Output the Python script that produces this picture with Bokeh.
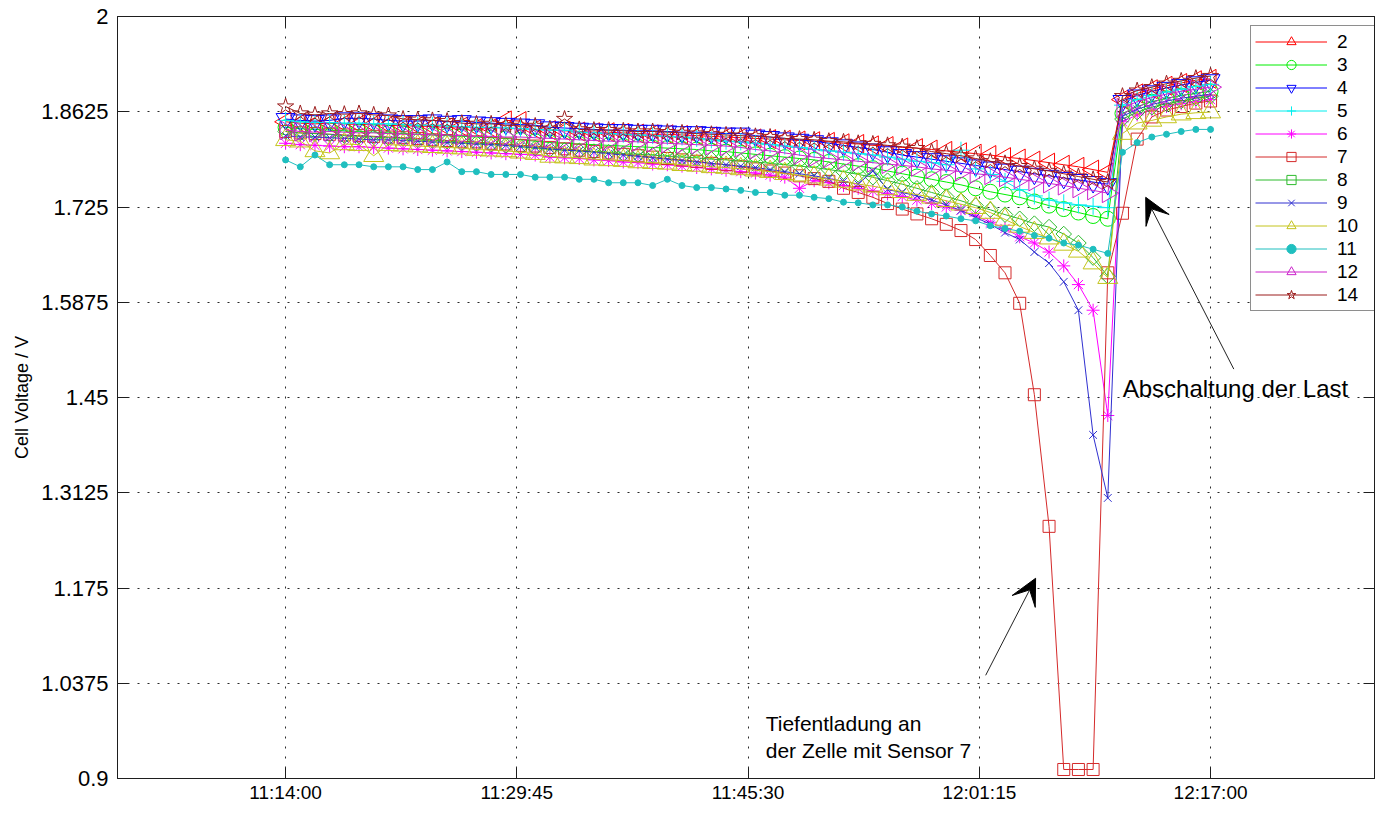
import math
from datetime import datetime, timedelta
from bokeh.plotting import figure
from bokeh.models import (Range1d, FixedTicker, DatetimeTickFormatter, LinearAxis, DatetimeAxis,
                          Legend, LegendItem, Arrow, VeeHead, Label, ColumnDataSource)
from bokeh.embed import file_html
from bokeh.resources import INLINE

DAY = datetime(2011, 3, 15)
EPOCH = datetime(1970, 1, 1)


def hms(s):
    h, m, sec = map(int, s.split(":"))
    return DAY + timedelta(hours=h, minutes=m, seconds=sec)


def ms(s):
    return (hms(s) - EPOCH).total_seconds() * 1000.0


# ---------------- data ----------------
first_sample = "11:14:00"
n_samples = 64          # one reading per minute, 11:14 ... 12:17
times = [hms(first_sample) + timedelta(minutes=i) for i in range(n_samples)]

x_tick_labels = ["11:14:00", "11:29:45", "11:45:30", "12:01:15", "12:17:00"]
y_ticks = [0.9, 1.0375, 1.175, 1.3125, 1.45, 1.5875, 1.725, 1.8625, 2.0]
y_tick_labels = ["0.9", "1.0375", "1.175", "1.3125", "1.45", "1.5875", "1.725", "1.8625", "2"]

sensor_names = ["2", "3", "4", "5", "6", "7", "8", "9", "10", "11", "12", "14"]

s2 = [1.848, 1.846, 1.845, 1.846, 1.845, 1.844, 1.844, 1.843, 1.842, 1.842,
      1.841, 1.840, 1.841, 1.839, 1.839, 1.850, 1.849, 1.837, 1.836, 1.835,
      1.834, 1.833, 1.833, 1.832, 1.831, 1.830, 1.830, 1.829, 1.828, 1.827,
      1.826, 1.825, 1.824, 1.823, 1.822, 1.821, 1.820, 1.819, 1.817, 1.816,
      1.814, 1.813, 1.811, 1.810, 1.808, 1.806, 1.804, 1.802, 1.800, 1.797,
      1.795, 1.792, 1.789, 1.786, 1.783, 1.779, 1.775, 1.880, 1.889, 1.895,
      1.900, 1.904, 1.908, 1.910]
s3 = [1.840, 1.838, 1.837, 1.836, 1.835, 1.834, 1.833, 1.832, 1.831, 1.830,
      1.829, 1.828, 1.827, 1.826, 1.825, 1.824, 1.822, 1.820, 1.818, 1.817,
      1.816, 1.815, 1.814, 1.813, 1.812, 1.811, 1.810, 1.809, 1.808, 1.806,
      1.805, 1.803, 1.801, 1.799, 1.797, 1.795, 1.793, 1.790, 1.787, 1.784,
      1.781, 1.777, 1.773, 1.769, 1.765, 1.761, 1.757, 1.752, 1.747, 1.743,
      1.739, 1.733, 1.727, 1.722, 1.717, 1.712, 1.708, 1.860, 1.870, 1.877,
      1.882, 1.886, 1.889, 1.892]
s4 = [1.852, 1.850, 1.849, 1.850, 1.853, 1.853, 1.852, 1.850, 1.849, 1.849,
      1.850, 1.848, 1.849, 1.847, 1.846, 1.845, 1.844, 1.843, 1.840, 1.839,
      1.838, 1.837, 1.836, 1.836, 1.835, 1.835, 1.834, 1.833, 1.833, 1.832,
      1.831, 1.831, 1.828, 1.826, 1.824, 1.822, 1.820, 1.817, 1.814, 1.811,
      1.808, 1.804, 1.800, 1.797, 1.794, 1.791, 1.788, 1.785, 1.782, 1.779,
      1.776, 1.773, 1.770, 1.767, 1.764, 1.761, 1.758, 1.878, 1.886, 1.892,
      1.897, 1.901, 1.905, 1.908]
s5 = [1.850, 1.848, 1.847, 1.847, 1.846, 1.846, 1.845, 1.845, 1.844, 1.843,
      1.843, 1.842, 1.841, 1.840, 1.840, 1.839, 1.838, 1.837, 1.836, 1.836,
      1.833, 1.832, 1.831, 1.830, 1.829, 1.828, 1.827, 1.826, 1.824, 1.822,
      1.820, 1.819, 1.817, 1.815, 1.813, 1.811, 1.808, 1.806, 1.804, 1.802,
      1.800, 1.797, 1.794, 1.791, 1.789, 1.786, 1.807, 1.780, 1.772, 1.762,
      1.750, 1.741, 1.735, 1.731, 1.728, 1.726, 1.724, 1.872, 1.880, 1.886,
      1.891, 1.895, 1.899, 1.902]
s6 = [1.817, 1.815, 1.814, 1.813, 1.812, 1.812, 1.811, 1.810, 1.809, 1.808,
      1.807, 1.806, 1.805, 1.804, 1.803, 1.802, 1.801, 1.800, 1.797, 1.796,
      1.795, 1.793, 1.792, 1.790, 1.789, 1.787, 1.786, 1.784, 1.782, 1.780,
      1.778, 1.776, 1.774, 1.771, 1.768, 1.752, 1.763, 1.760, 1.756, 1.752,
      1.748, 1.744, 1.740, 1.735, 1.730, 1.725, 1.720, 1.712, 1.703, 1.694,
      1.682, 1.673, 1.660, 1.640, 1.613, 1.576, 1.424, 1.848, 1.858, 1.865,
      1.870, 1.874, 1.877, 1.880]
s7 = [1.834, 1.832, 1.831, 1.830, 1.829, 1.828, 1.827, 1.826, 1.825, 1.824,
      1.822, 1.821, 1.820, 1.819, 1.817, 1.816, 1.814, 1.813, 1.811, 1.809,
      1.807, 1.805, 1.803, 1.801, 1.799, 1.797, 1.795, 1.793, 1.791, 1.788,
      1.786, 1.783, 1.780, 1.777, 1.774, 1.770, 1.766, 1.762, 1.752, 1.746,
      1.739, 1.730, 1.722, 1.715, 1.708, 1.700, 1.691, 1.678, 1.655, 1.630,
      1.586, 1.454, 1.264, 0.913, 0.913, 0.913, 1.630, 1.716, 1.823, 1.855,
      1.865, 1.870, 1.875, 1.878]
s8 = [1.834, 1.832, 1.831, 1.830, 1.828, 1.827, 1.826, 1.825, 1.824, 1.822,
      1.821, 1.820, 1.818, 1.817, 1.816, 1.814, 1.812, 1.810, 1.808, 1.807,
      1.806, 1.805, 1.804, 1.802, 1.801, 1.800, 1.798, 1.797, 1.796, 1.794,
      1.793, 1.791, 1.790, 1.788, 1.786, 1.784, 1.782, 1.779, 1.776, 1.772,
      1.768, 1.763, 1.758, 1.752, 1.746, 1.740, 1.734, 1.727, 1.721, 1.714,
      1.708, 1.701, 1.696, 1.686, 1.673, 1.652, 1.625, 1.852, 1.862, 1.869,
      1.874, 1.878, 1.882, 1.885]
s9 = [1.828, 1.826, 1.826, 1.825, 1.824, 1.823, 1.822, 1.822, 1.821, 1.820,
      1.819, 1.818, 1.817, 1.816, 1.815, 1.814, 1.812, 1.811, 1.809, 1.807,
      1.806, 1.804, 1.802, 1.800, 1.798, 1.796, 1.794, 1.792, 1.790, 1.788,
      1.786, 1.784, 1.782, 1.779, 1.776, 1.773, 1.770, 1.766, 1.762, 1.758,
      1.777, 1.750, 1.746, 1.741, 1.735, 1.728, 1.720, 1.710, 1.700, 1.688,
      1.678, 1.660, 1.644, 1.617, 1.576, 1.396, 1.305, 1.856, 1.866, 1.873,
      1.878, 1.882, 1.885, 1.888]
s10 = [1.822, 1.820, 1.806, 1.803, 1.816, 1.815, 1.799, 1.815, 1.814, 1.813,
       1.812, 1.811, 1.810, 1.808, 1.807, 1.806, 1.804, 1.802, 1.798, 1.797,
       1.796, 1.794, 1.793, 1.792, 1.790, 1.789, 1.788, 1.786, 1.785, 1.783,
       1.782, 1.780, 1.778, 1.776, 1.773, 1.771, 1.768, 1.765, 1.762, 1.758,
       1.755, 1.751, 1.747, 1.743, 1.739, 1.734, 1.729, 1.724, 1.717, 1.707,
       1.697, 1.688, 1.680, 1.671, 1.661, 1.644, 1.623, 1.831, 1.846, 1.850,
       1.855, 1.859, 1.861, 1.862]
s11 = [1.793, 1.783, 1.800, 1.786, 1.786, 1.786, 1.783, 1.783, 1.783, 1.779,
       1.779, 1.790, 1.776, 1.776, 1.772, 1.772, 1.772, 1.768, 1.768, 1.768,
       1.765, 1.765, 1.760, 1.760, 1.760, 1.756, 1.765, 1.756, 1.753, 1.753,
       1.751, 1.749, 1.746, 1.746, 1.742, 1.742, 1.739, 1.737, 1.732, 1.731,
       1.728, 1.728, 1.725, 1.719, 1.715, 1.712, 1.708, 1.705, 1.698, 1.694,
       1.690, 1.684, 1.680, 1.673, 1.670, 1.664, 1.658, 1.804, 1.818, 1.826,
       1.830, 1.834, 1.837, 1.837]
s12 = [1.836, 1.834, 1.833, 1.834, 1.833, 1.832, 1.832, 1.831, 1.830, 1.830,
       1.829, 1.829, 1.828, 1.827, 1.827, 1.826, 1.826, 1.825, 1.824, 1.823,
       1.822, 1.821, 1.820, 1.820, 1.819, 1.818, 1.817, 1.816, 1.815, 1.814,
       1.813, 1.811, 1.808, 1.806, 1.803, 1.800, 1.797, 1.795, 1.793, 1.791,
       1.789, 1.787, 1.785, 1.783, 1.780, 1.778, 1.776, 1.773, 1.771, 1.768,
       1.765, 1.762, 1.759, 1.756, 1.752, 1.749, 1.745, 1.868, 1.877, 1.883,
       1.888, 1.892, 1.895, 1.898]
s14 = [1.870, 1.860, 1.858, 1.860, 1.859, 1.860, 1.858, 1.857, 1.852, 1.851,
       1.850, 1.849, 1.846, 1.845, 1.845, 1.843, 1.842, 1.842, 1.838, 1.852,
       1.837, 1.836, 1.836, 1.835, 1.834, 1.834, 1.833, 1.832, 1.831, 1.830,
       1.829, 1.828, 1.827, 1.826, 1.824, 1.823, 1.822, 1.820, 1.819, 1.817,
       1.816, 1.814, 1.812, 1.810, 1.805, 1.802, 1.799, 1.795, 1.791, 1.788,
       1.784, 1.780, 1.777, 1.773, 1.769, 1.765, 1.761, 1.885, 1.893, 1.898,
       1.903, 1.907, 1.911, 1.914]

series_values = [s2, s3, s4, s5, s6, s7, s8, s9, s10, s11, s12, s14]

# ---------------- styles ----------------
styles = {
    "2":  dict(color="#ff0000", marker="triangle", size=19, angle=math.pi / 2, fill=False),
    "3":  dict(color="#00ee00", marker="circle", size=15, angle=0.0, fill=False),
    "4":  dict(color="#0000ff", marker="inverted_triangle", size=19, angle=0.0, fill=False),
    "5":  dict(color="#00eeee", marker="cross", size=17, angle=0.0, fill=False),
    "6":  dict(color="#ff00ff", marker="asterisk", size=13, angle=0.0, fill=False),
    "7":  dict(color="#d42a2a", marker="square", size=12, angle=0.0, fill=False),
    "8":  dict(color="#2dbb2d", marker="square", size=11, angle=math.pi / 4, fill=False),
    "9":  dict(color="#3030d0", marker="x", size=11, angle=0.0, fill=False),
    "10": dict(color="#c4c41c", marker="triangle", size=20, angle=0.0, fill=False),
    "11": dict(color="#1fbfbf", marker="circle", size=6, angle=0.0, fill=True),
    "12": dict(color="#cc22cc", marker="triangle", size=19, angle=-math.pi / 2, fill=False),
    "14": dict(color="#9b1c1c", marker="star", size=17, angle=0.0, fill=False),
}

FONT = "Liberation Sans"
AX = "#1e1e1e"

p = figure(width=1375, height=805, x_axis_type="datetime",
           x_range=Range1d(ms("11:02:33"), ms("12:28:10")),
           y_range=Range1d(0.9, 2.0),
           output_backend="svg", toolbar_location=None,
           min_border_left=117, min_border_top=16, min_border_right=1, min_border_bottom=20,
           background_fill_color="white", border_fill_color="white")

x_ticker = FixedTicker(ticks=[ms(s) for s in x_tick_labels])
y_ticker = FixedTicker(ticks=y_ticks)
fmt = DatetimeTickFormatter(seconds="%H:%M:%S", minsec="%H:%M:%S", minutes="%H:%M:%S",
                            hourmin="%H:%M:%S", hours="%H:%M:%S", days="%H:%M:%S",
                            milliseconds="%H:%M:%S", microseconds="%H:%M:%S")

p.xaxis.ticker = x_ticker
p.xaxis.formatter = fmt
p.yaxis.ticker = y_ticker
p.yaxis.major_label_overrides = {v: l for v, l in zip(y_ticks, y_tick_labels)}
p.xgrid.ticker = x_ticker
p.ygrid.ticker = y_ticker

for ax in (p.xaxis[0], p.yaxis[0]):
    ax.major_tick_in = 11
    ax.major_tick_out = 0
    ax.minor_tick_line_color = None
    ax.axis_line_color = AX
    ax.major_tick_line_color = AX
    ax.major_label_text_font = FONT
    ax.major_label_text_color = "black"

p.xaxis.major_label_text_font_size = "19px"
p.yaxis.major_label_text_font_size = "22px"
p.xaxis.major_label_standoff = 3
p.yaxis.major_label_standoff = 9
p.yaxis.axis_label = "Cell Voltage / V"
p.yaxis.axis_label_text_font = FONT
p.yaxis.axis_label_text_font_size = "18px"
p.yaxis.axis_label_text_font_style = "normal"
p.yaxis.axis_label_text_color = "black"
p.yaxis.axis_label_standoff = 6

right_ax = LinearAxis(ticker=y_ticker, major_label_text_font_size="1px", major_label_text_color=None,
                      major_label_standoff=0, major_tick_in=11, major_tick_out=0,
                      minor_tick_line_color=None, axis_line_color=AX, major_tick_line_color=AX)
top_ax = DatetimeAxis(ticker=x_ticker, formatter=fmt, major_label_text_font_size="1px",
                      major_label_text_color=None, major_label_standoff=0, major_tick_in=11,
                      major_tick_out=0, minor_tick_line_color=None, axis_line_color=AX,
                      major_tick_line_color=AX)
p.add_layout(right_ax, "right")
p.add_layout(top_ax, "above")

for g in (p.xgrid[0], p.ygrid[0]):
    g.grid_line_color = "#2a2a2a"
    g.grid_line_dash = "2 8"
    g.grid_line_width = 1

p.outline_line_color = AX
p.outline_line_width = 1

items = []
for name, vals in zip(sensor_names, series_values):
    st = styles[name]
    src = ColumnDataSource(dict(t=times, v=vals))
    rl = p.line("t", "v", source=src, line_color=st["color"], line_width=1)
    rm = p.scatter("t", "v", source=src, marker=st["marker"], size=st["size"], angle=st["angle"],
                   line_color=st["color"], line_width=1,
                   fill_color=st["color"] if st["fill"] else None)
    items.append(LegendItem(label=name, renderers=[rl, rm]))

# legend box: left edge 1133 px right of the frame's left edge, bottom 467 px above the frame's bottom
legend = Legend(items=items, location=(1133, 467), margin=0, padding=4,
                glyph_width=72, glyph_height=23, label_height=20, label_width=33,
                spacing=0, label_standoff=10,
                label_text_font=FONT, label_text_font_size="19px", label_text_color="black",
                border_line_color=AX, border_line_width=1,
                background_fill_color="white", background_fill_alpha=1.0)
p.add_layout(legend)

# ---------------- annotations ----------------
arrows = [
    # (tail time, tail V, head time, head V)
    ("12:18:35", 1.491, "12:12:35", 1.739),
    ("12:01:41", 1.049, "12:05:05", 1.189),
]
for t0, v0, t1, v1 in arrows:
    p.add_layout(Arrow(end=VeeHead(size=26, fill_color="black", line_color="black", line_width=1),
                       x_start=ms(t0), y_start=v0, x_end=ms(t1), y_end=v1,
                       line_color="#222222", line_width=1))

notes = [
    ("12:11:01", 1.463, "Abschaltung der Last", "24px"),
    ("11:46:42", 0.979, "Tiefentladung an", "21px"),
    ("11:46:42", 0.941, "der Zelle mit Sensor 7", "21px"),
]
for t, v, txt, fs in notes:
    p.add_layout(Label(x=ms(t), y=v, text=txt, text_font=FONT, text_font_size=fs,
                       text_color="black", text_baseline="alphabetic", text_align="left"))

open("out.html", "w").write(file_html(p, INLINE))
